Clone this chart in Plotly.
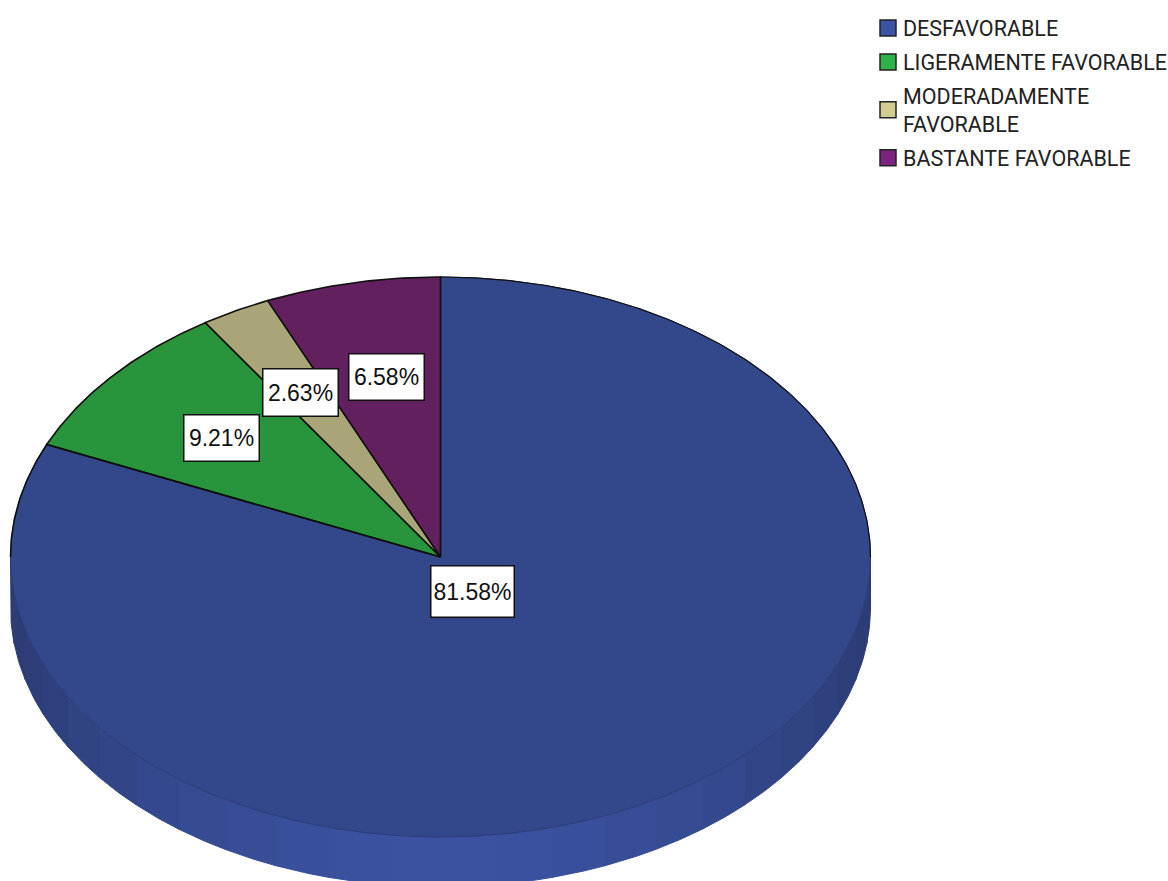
import math
import plotly.graph_objects as go

categories = ["DESFAVORABLE", "LIGERAMENTE FAVORABLE", "MODERADAMENTE<br>FAVORABLE", "BASTANTE FAVORABLE"]
percentages = [81.58, 9.21, 2.63, 6.58]
pct_labels = ["81.58%", "9.21%", "2.63%", "6.58%"]
slice_colors = ["#32488A", "#28943C", "#A9A578", "#63205F"]
legend_colors = ["#3A53A4", "#2DB34A", "#D3CD8F", "#7D2280"]
label_radius_x = [0.134, 0.668, 0.684, 0.614]
label_radius_y = [0.147, 0.657, 0.669, 0.657]
label_heights = [50, 45, 46, 45]

CX, CY, RX, RY, DEPTH = 440.5, 557, 430, 280, 50


def pt(theta_deg, r=1.0, dy=0.0):
    t = math.radians(theta_deg)
    return CX + RX * r * math.sin(t), CY - RY * r * math.cos(t) + dy


def arc(a, b, n=None, dy=0.0):
    n = n or max(2, int(abs(b - a) * 2))
    pts = [pt(a + (b - a) * i / n, dy=dy) for i in range(n + 1)]
    return [p[0] for p in pts], [p[1] for p in pts]


fig = go.Figure()

# 3D rim: shaded strips below the front half of the ellipse
N_BANDS = 24
dark, light = (0x2B, 0x3C, 0x74), (0x3A, 0x52, 0xA0)
for i in range(N_BANDS):
    a = 90 + 180 * i / N_BANDS
    b = 90 + 180 * (i + 1) / N_BANDS
    f = abs(math.cos(math.radians((a + b) / 2 - 180)))
    col = "rgb(%d,%d,%d)" % tuple(round(d + (l - d) * f ** 2) for d, l in zip(dark, light))
    xt, yt = arc(a, b, 12)
    xb, yb = arc(b, a, 12, dy=DEPTH)
    fig.add_trace(go.Scatter(x=xt + xb + [xt[0]], y=yt + yb + [yt[0]], mode="lines", fill="toself",
                             fillcolor=col, line=dict(color=col, width=1), showlegend=False, hoverinfo="skip"))

# top face wedges, clockwise from twelve o'clock
start = 0.0
total = sum(percentages)
mids = []
for name, val, col in zip(categories, percentages, slice_colors):
    sweep = 360 * val / total
    xs, ys = arc(start, start + sweep)
    big = val == max(percentages)
    fig.add_trace(go.Scatter(x=[CX] + xs + [CX], y=[CY] + ys + [CY], mode="lines", fill="toself",
                             fillcolor=col,
                             line=dict(color="#2A3C75" if big else "#101010", width=1 if big else 1.6),
                             name=name, showlegend=False, hoverinfo="name"))
    mids.append(start + sweep / 2)
    start += sweep

# black outline on the upper half and radial edges of the large slice
end_big = 360 * percentages[0] / total
xa, ya = arc(0, 90)
fig.add_trace(go.Scatter(x=[CX] + xa, y=[CY] + ya, mode="lines", line=dict(color="#101010", width=1.2),
                         showlegend=False, hoverinfo="skip"))
xa, ya = arc(270, end_big)
fig.add_trace(go.Scatter(x=xa + [CX], y=ya + [CY], mode="lines", line=dict(color="#101010", width=1.6),
                         showlegend=False, hoverinfo="skip"))

# legend entries
for name, col in zip(categories, legend_colors):
    fig.add_trace(go.Scatter(x=[None], y=[None], mode="markers", name=name, legendgroup=name,
                             marker=dict(symbol="square", size=20, color=col, line=dict(color="#222222", width=1.5))))

for lab, m, rx, ry, h in zip(pct_labels, mids, label_radius_x, label_radius_y, label_heights):
    x = pt(m, rx)[0]
    y = pt(m, ry)[1]
    fig.add_annotation(x=x, y=y, text=lab, showarrow=False, width=74 if len(lab) == 5 else 82, height=h,
                       bgcolor="white", bordercolor="#111111", borderwidth=1.5, borderpad=0,
                       font=dict(family="Liberation Sans, Arial", size=23, color="#111111"))

fig.update_layout(
    width=1168, height=881, margin=dict(l=0, r=0, t=0, b=0, autoexpand=False),
    paper_bgcolor="white", plot_bgcolor="white",
    xaxis=dict(range=[0, 1168], visible=False, fixedrange=True),
    yaxis=dict(range=[881, 0], visible=False, fixedrange=True),
    legend=dict(x=863 / 1168, y=1 - 7.5 / 881, xanchor="left", yanchor="top", bgcolor="rgba(0,0,0,0)",
                tracegroupgap=3, traceorder="grouped",
                font=dict(family="Roboto, Liberation Sans, Arial", size=21.5, color="#222222"),
                itemclick=False, itemdoubleclick=False),
)

fig.write_html("out.html", config={"displayModeBar": False},
               post_script="document.body.style.margin='0';"
                           "document.querySelectorAll('.legendsymbols').forEach(function(s){"
                           "s.setAttribute('transform','translate(5,0)');});")
